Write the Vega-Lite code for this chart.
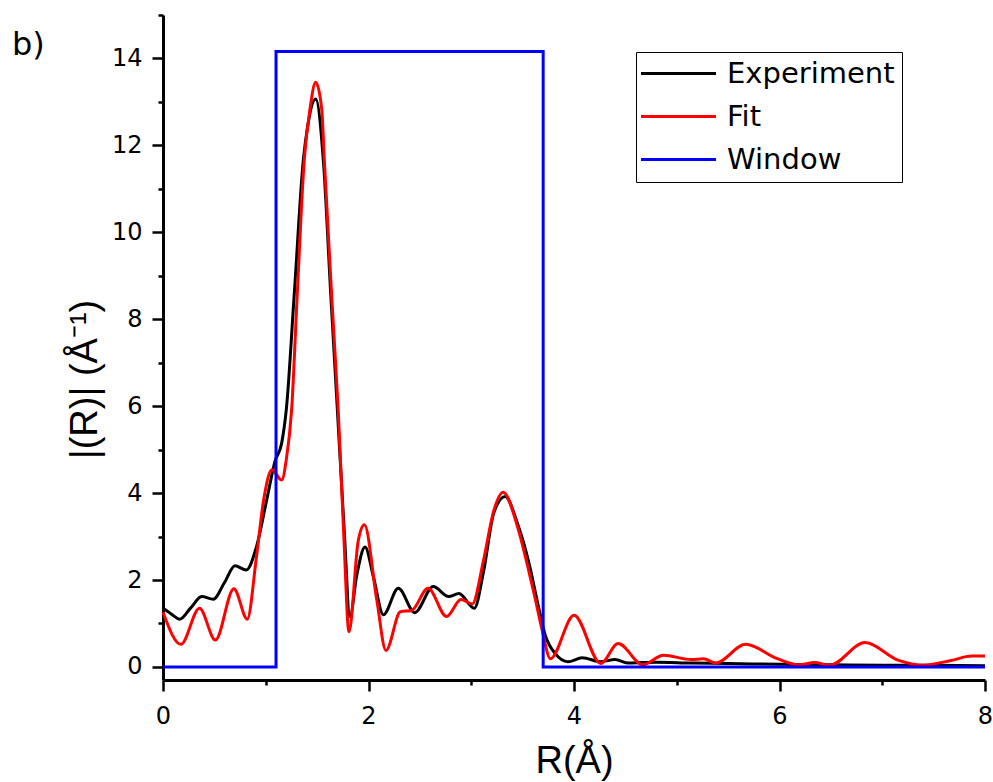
{
  "$schema": "https://vega.github.io/schema/vega-lite/v6.json",
  "width": 822,
  "height": 665,
  "autosize": {"type": "none"},
  "padding": {"left": 163, "top": 15, "right": 8, "bottom": 102},
  "background": "white",
  "title": {"text": "b)", "anchor": "start", "frame": "group", "offset": 0, "dx": -151, "dy": 73, "baseline": "alphabetic", "font": "DejaVu Sans", "fontSize": 32, "fontWeight": "normal", "color": "black"},
  "config": {
    "view": {"stroke": null},
    "axis": {"domainColor": "black", "domainWidth": 3, "tickColor": "black", "tickWidth": 2.5, "labelFont": "DejaVu Sans", "labelFontSize": 24, "labelColor": "black", "titleFont": "Liberation Sans", "titleFontSize": 38, "titleFontWeight": "normal", "titleColor": "black", "grid": false, "labelFlush": false, "labelOverlap": false},
    "legend": {"labelFont": "DejaVu Sans", "labelFontSize": 29, "labelColor": "black", "labelLimit": 400}
  },
  "data": {"values": [
    {"s": "Experiment", "x": 0.00, "y": 1.36},
    {"s": "Experiment", "x": 0.08, "y": 1.22},
    {"s": "Experiment", "x": 0.165, "y": 1.10},
    {"s": "Experiment", "x": 0.27, "y": 1.36},
    {"s": "Experiment", "x": 0.377, "y": 1.62},
    {"s": "Experiment", "x": 0.49, "y": 1.56},
    {"s": "Experiment", "x": 0.60, "y": 1.95},
    {"s": "Experiment", "x": 0.70, "y": 2.33},
    {"s": "Experiment", "x": 0.81, "y": 2.23},
    {"s": "Experiment", "x": 0.91, "y": 2.77},
    {"s": "Experiment", "x": 1.01, "y": 3.85},
    {"s": "Experiment", "x": 1.09, "y": 4.73},
    {"s": "Experiment", "x": 1.155, "y": 5.15},
    {"s": "Experiment", "x": 1.20, "y": 5.92},
    {"s": "Experiment", "x": 1.278, "y": 8.6},
    {"s": "Experiment", "x": 1.366, "y": 11.67},
    {"s": "Experiment", "x": 1.408, "y": 12.44},
    {"s": "Experiment", "x": 1.486, "y": 13.07},
    {"s": "Experiment", "x": 1.56, "y": 11.67},
    {"s": "Experiment", "x": 1.632, "y": 8.6},
    {"s": "Experiment", "x": 1.697, "y": 5.92},
    {"s": "Experiment", "x": 1.76, "y": 3.3},
    {"s": "Experiment", "x": 1.82, "y": 1.16},
    {"s": "Experiment", "x": 1.885, "y": 2.1},
    {"s": "Experiment", "x": 1.966, "y": 2.76},
    {"s": "Experiment", "x": 2.05, "y": 2.05},
    {"s": "Experiment", "x": 2.145, "y": 1.20},
    {"s": "Experiment", "x": 2.29, "y": 1.81},
    {"s": "Experiment", "x": 2.45, "y": 1.25},
    {"s": "Experiment", "x": 2.63, "y": 1.85},
    {"s": "Experiment", "x": 2.78, "y": 1.62},
    {"s": "Experiment", "x": 2.88, "y": 1.69},
    {"s": "Experiment", "x": 3.03, "y": 1.35},
    {"s": "Experiment", "x": 3.12, "y": 2.2},
    {"s": "Experiment", "x": 3.22, "y": 3.55},
    {"s": "Experiment", "x": 3.33, "y": 3.92},
    {"s": "Experiment", "x": 3.45, "y": 3.3},
    {"s": "Experiment", "x": 3.57, "y": 2.31},
    {"s": "Experiment", "x": 3.64, "y": 1.54},
    {"s": "Experiment", "x": 3.72, "y": 0.73},
    {"s": "Experiment", "x": 3.82, "y": 0.3},
    {"s": "Experiment", "x": 3.94, "y": 0.12},
    {"s": "Experiment", "x": 4.08, "y": 0.21},
    {"s": "Experiment", "x": 4.26, "y": 0.12},
    {"s": "Experiment", "x": 4.40, "y": 0.17},
    {"s": "Experiment", "x": 4.53, "y": 0.09},
    {"s": "Experiment", "x": 4.80, "y": 0.11},
    {"s": "Experiment", "x": 5.14, "y": 0.09},
    {"s": "Experiment", "x": 5.5, "y": 0.08},
    {"s": "Experiment", "x": 6.0, "y": 0.06},
    {"s": "Experiment", "x": 6.5, "y": 0.05},
    {"s": "Experiment", "x": 7.0, "y": 0.04},
    {"s": "Experiment", "x": 7.5, "y": 0.04},
    {"s": "Experiment", "x": 8.0, "y": 0.03},
    {"s": "Fit", "x": 0.00, "y": 1.26},
    {"s": "Fit", "x": 0.175, "y": 0.52},
    {"s": "Fit", "x": 0.355, "y": 1.35},
    {"s": "Fit", "x": 0.51, "y": 0.62},
    {"s": "Fit", "x": 0.69, "y": 1.80},
    {"s": "Fit", "x": 0.82, "y": 1.10},
    {"s": "Fit", "x": 0.91, "y": 2.54},
    {"s": "Fit", "x": 0.98, "y": 3.85},
    {"s": "Fit", "x": 1.06, "y": 4.54},
    {"s": "Fit", "x": 1.155, "y": 4.30},
    {"s": "Fit", "x": 1.20, "y": 4.77},
    {"s": "Fit", "x": 1.252, "y": 5.92},
    {"s": "Fit", "x": 1.307, "y": 8.6},
    {"s": "Fit", "x": 1.375, "y": 11.67},
    {"s": "Fit", "x": 1.43, "y": 12.83},
    {"s": "Fit", "x": 1.486, "y": 13.45},
    {"s": "Fit", "x": 1.545, "y": 12.83},
    {"s": "Fit", "x": 1.57, "y": 11.67},
    {"s": "Fit", "x": 1.64, "y": 8.6},
    {"s": "Fit", "x": 1.705, "y": 5.92},
    {"s": "Fit", "x": 1.76, "y": 3.0},
    {"s": "Fit", "x": 1.81, "y": 0.81},
    {"s": "Fit", "x": 1.90, "y": 2.9},
    {"s": "Fit", "x": 1.96, "y": 3.27},
    {"s": "Fit", "x": 2.08, "y": 1.55},
    {"s": "Fit", "x": 2.17, "y": 0.38},
    {"s": "Fit", "x": 2.31, "y": 1.27},
    {"s": "Fit", "x": 2.42, "y": 1.30},
    {"s": "Fit", "x": 2.58, "y": 1.81},
    {"s": "Fit", "x": 2.76, "y": 1.16},
    {"s": "Fit", "x": 2.90, "y": 1.55},
    {"s": "Fit", "x": 3.01, "y": 1.45},
    {"s": "Fit", "x": 3.12, "y": 2.46},
    {"s": "Fit", "x": 3.22, "y": 3.6},
    {"s": "Fit", "x": 3.31, "y": 4.02},
    {"s": "Fit", "x": 3.45, "y": 3.23},
    {"s": "Fit", "x": 3.55, "y": 2.31},
    {"s": "Fit", "x": 3.62, "y": 1.6},
    {"s": "Fit", "x": 3.69, "y": 0.85},
    {"s": "Fit", "x": 3.77, "y": 0.19},
    {"s": "Fit", "x": 4.00, "y": 1.19},
    {"s": "Fit", "x": 4.26, "y": 0.08},
    {"s": "Fit", "x": 4.43, "y": 0.54},
    {"s": "Fit", "x": 4.67, "y": 0.05},
    {"s": "Fit", "x": 4.87, "y": 0.27},
    {"s": "Fit", "x": 5.14, "y": 0.17},
    {"s": "Fit", "x": 5.26, "y": 0.19},
    {"s": "Fit", "x": 5.38, "y": 0.09},
    {"s": "Fit", "x": 5.67, "y": 0.52},
    {"s": "Fit", "x": 5.98, "y": 0.19},
    {"s": "Fit", "x": 6.19, "y": 0.05},
    {"s": "Fit", "x": 6.34, "y": 0.10},
    {"s": "Fit", "x": 6.49, "y": 0.04},
    {"s": "Fit", "x": 6.83, "y": 0.56},
    {"s": "Fit", "x": 7.16, "y": 0.15},
    {"s": "Fit", "x": 7.40, "y": 0.04},
    {"s": "Fit", "x": 7.67, "y": 0.15},
    {"s": "Fit", "x": 7.87, "y": 0.25},
    {"s": "Fit", "x": 8.00, "y": 0.25},
    {"s": "Window", "i": 1, "x": 0, "y": 0},
    {"s": "Window", "i": 2, "x": 1.1, "y": 0},
    {"s": "Window", "i": 3, "x": 1.1, "y": 14.16},
    {"s": "Window", "i": 4, "x": 3.7, "y": 14.16},
    {"s": "Window", "i": 5, "x": 3.7, "y": 0},
    {"s": "Window", "i": 6, "x": 8, "y": 0}
  ]},
  "layer": [
    {
      "transform": [{"filter": "datum.s !== 'Window'"}],
      "mark": {"type": "line", "interpolate": "monotone", "strokeWidth": 3},
      "encoding": {
        "x": {"field": "x", "type": "quantitative", "scale": {"domain": [0, 8], "nice": false, "zero": false},
          "axis": {"orient": "bottom", "values": [0, 2, 4, 6, 8], "tickSize": 11, "labelPadding": 32, "labelBaseline": "alphabetic", "title": "R(Å)", "titleY": 92, "titleBaseline": "alphabetic"}},
        "y": {"field": "y", "type": "quantitative", "scale": {"domain": [-0.3, 15], "nice": false, "zero": false},
          "axis": {"orient": "left", "values": [0, 2, 4, 6, 8, 10, 12, 14], "tickSize": 11, "labelPadding": 10, "title": "|(R)| (Å⁻¹)", "titleAngle": 270, "titleX": -78, "titleY": 364, "titleBaseline": "middle", "titleAlign": "center"}},
        "color": {"field": "s", "type": "nominal",
          "scale": {"domain": ["Experiment", "Fit", "Window"], "range": ["#000000", "#ff0000", "#0000ff"]},
          "legend": {"title": null, "orient": "none", "legendX": 473, "legendY": 37, "strokeColor": "black", "fillColor": "white", "padding": 7, "symbolType": "M-2.2,0H7.8", "symbolSize": 225, "symbolStrokeWidth": 3, "labelOffset": 55, "rowPadding": 13}}
      }
    },
    {
      "transform": [{"filter": "datum.s === 'Window'"}],
      "mark": {"type": "line", "strokeWidth": 3},
      "encoding": {
        "x": {"field": "x", "type": "quantitative", "axis": null},
        "y": {"field": "y", "type": "quantitative", "axis": null},
        "color": {"field": "s", "type": "nominal"},
        "order": {"field": "i", "type": "quantitative"}
      }
    },
    {
      "transform": [{"filter": "datum.s === 'Window'"}],
      "mark": {"type": "point", "opacity": 0},
      "encoding": {
        "x": {"field": "x", "type": "quantitative", "axis": {"orient": "bottom", "values": [1, 3, 5, 7], "tickSize": 5, "labels": false, "domain": false, "title": null}},
        "y": {"field": "y", "type": "quantitative", "axis": {"orient": "left", "values": [1, 3, 5, 7, 9, 11, 13, 15], "tickSize": 5, "labels": false, "domain": false, "title": null}}
      }
    }
  ],
  "resolve": {"axis": {"x": "independent", "y": "independent"}}
}
